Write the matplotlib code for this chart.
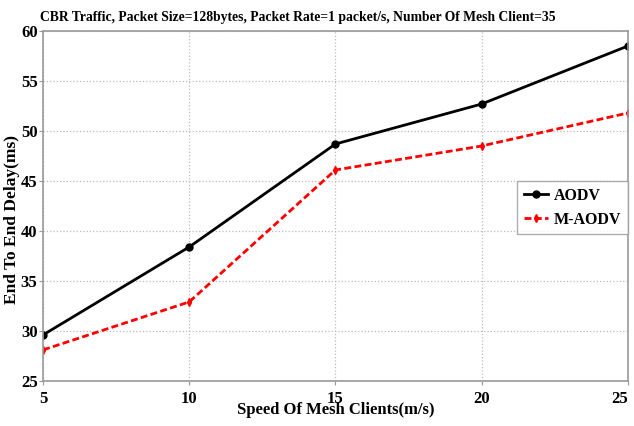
import matplotlib.pyplot as plt

speed = [5, 10, 15, 20, 25]
aodv_delay = [29.6, 38.4, 48.7, 52.7, 58.5]
maodv_delay = [28.1, 32.9, 46.1, 48.5, 51.8]

plt.rcParams['font.family'] = 'Liberation Serif'

fig = plt.figure(figsize=(6.34, 4.26), dpi=100)
ax = fig.add_axes([0.068, 0.106, 0.922, 0.821])

ax.plot(speed, aodv_delay, color='black', linewidth=2, marker='o',
        markersize=5, label='AODV')
ax.plot(speed, maodv_delay, color='red', linewidth=2, linestyle=(0, (2.5, 1.2)),
        marker='d', markersize=4, label='M-AODV')

ax.set_xlim(5, 25)
ax.set_ylim(25, 60)
ax.set_xticks(speed)
ax.set_yticks(range(25, 61, 5))
ax.grid(True, linestyle=':', color='#bbbbbb', linewidth=0.9)
for spine in ax.spines.values():
    spine.set_color('#999999')
    spine.set_linewidth(1.2)
ax.tick_params(axis='both', length=3, color='#999999', labelsize=12)
ax.tick_params(axis='x', pad=4)
ax.tick_params(axis='y', pad=1)
for lbl in ax.get_xticklabels() + ax.get_yticklabels():
    lbl.set_fontweight('bold')
ax.get_xticklabels()[-1].set_horizontalalignment('right')

# title sits left of centre, starting near the y tick labels
fig.text(40 / 634, 1 - 21 / 426,
         'CBR Traffic, Packet Size=128bytes, Packet Rate=1 packet/s, '
         'Number Of Mesh Client=35', fontsize=9.8, fontweight='bold',
         ha='left', va='baseline')
ax.set_xlabel('Speed Of Mesh Clients(m/s)', fontsize=12, fontweight='bold',
              labelpad=-3)
ax.set_ylabel('End To End Delay(ms)', fontsize=12.5, fontweight='bold')
ax.yaxis.set_label_coords(-0.04, 0.46)

leg = ax.legend(loc='upper right', bbox_to_anchor=(1.0, 0.571),
                borderaxespad=0, fancybox=False, edgecolor='#999999',
                handlelength=1.5, handletextpad=0.4,
                prop={'weight': 'bold', 'size': 11.5})
leg.get_frame().set_linewidth(1.0)

fig.savefig('out.png', dpi=100)
